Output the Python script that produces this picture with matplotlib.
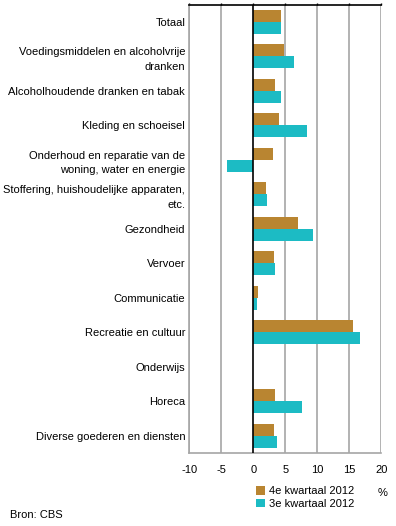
import matplotlib
matplotlib.use('Agg')
import matplotlib.pyplot as plt
import numpy as np

plt.rcParams['font.family'] = ['Liberation Sans', 'DejaVu Sans']
plt.rcParams['font.size'] = 8

categories = [
    'Totaal',
    'Voedingsmiddelen en alcoholvrije\ndranken',
    'Alcoholhoudende dranken en tabak',
    'Kleding en schoeisel',
    'Onderhoud en reparatie van de\nwoning, water en energie',
    'Stoffering, huishoudelijke apparaten,\netc.',
    'Gezondheid',
    'Vervoer',
    'Communicatie',
    'Recreatie en cultuur',
    'Onderwijs',
    'Horeca',
    'Diverse goederen en diensten',
]
q4_2012 = [4.4, 4.8, 3.4, 4.0, 3.1, 2.0, 7.0, 3.2, 0.7, 15.6, 0.0, 3.4, 3.2]
q3_2012 = [4.4, 6.35, 4.3, 8.4, -4.1, 2.1, 9.3, 3.4, 0.6, 16.7, 0.0, 7.6, 3.7]
series_labels = ['4e kwartaal 2012', '3e kwartaal 2012']
xticks = [-10, -5, 0, 5, 10, 15, 20]

c_orange = '#b98531'
c_cyan = '#1cbbc4'
grid_c = '#a6a6a6'

fig = plt.figure(figsize=(3.96, 5.26), dpi=100)
ax = fig.add_axes([189.3 / 396, 1 - 453 / 526, 192 / 396, (453 - 4.7) / 526])

y = np.arange(len(categories))
h = 0.35
b1 = ax.barh(y - h / 2, q4_2012, height=h, color=c_orange, zorder=3)
b2 = ax.barh(y + h / 2, q3_2012, height=h, color=c_cyan, zorder=3)

ax.set_xlim(-10, 20)
ax.set_ylim(len(categories) - 0.5, -0.5)
ax.set_yticks(y)
ax.set_yticklabels(categories, ha='right', linespacing=1.55)
ax.tick_params(axis='y', length=0, pad=3)

ax.set_xticks(xticks)
ax.set_xticklabels([str(t) for t in xticks])
ax.tick_params(axis='x', which='both', bottom=False, top=True, labelbottom=True,
               labeltop=False, direction='out', length=1.5, width=1, color='black', pad=7)

for t in xticks:
    if t == 0:
        ax.axvline(t, color='black', lw=1.2, zorder=4)
    else:
        ax.axvline(t, color=grid_c, lw=1.2, zorder=1)

ax.spines['top'].set_color('black')
ax.spines['top'].set_linewidth(1.2)
ax.spines['right'].set_visible(False)
ax.spines['left'].set_color(grid_c)
ax.spines['left'].set_linewidth(1.2)
ax.spines['bottom'].set_color(grid_c)
ax.spines['bottom'].set_linewidth(1.2)

fig.legend([b1, b2], series_labels, loc='upper left',
           bbox_to_anchor=(256 / 396, 1 - 486 / 526), frameon=False,
           borderpad=0, borderaxespad=0, handlelength=0.8, handleheight=0.8,
           handletextpad=0.4, labelspacing=0.25)

fig.text(383 / 396, 1 - 493 / 526, '%', ha='center', va='center')
fig.text(10 / 396, 1 - 515 / 526, 'Bron: CBS', ha='left', va='center')

fig.savefig('out.png', dpi=100)
